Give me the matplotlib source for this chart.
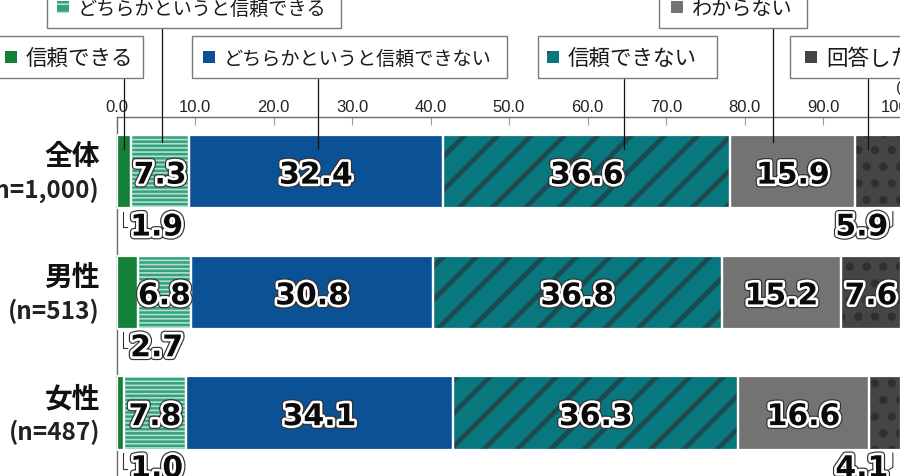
import matplotlib
matplotlib.use('Agg')
import matplotlib.pyplot as plt
from matplotlib import patheffects as pe
from matplotlib.patches import Rectangle
from matplotlib.lines import Line2D
import numpy as np

# ---------------- data ----------------
categories = ['全体', '男性', '女性']
sample_sizes = ['(n=1,000)', '(n=513)', '(n=487)']
series_names = ['信頼できる', 'どちらかというと信頼できる', 'どちらかというと信頼できない',
                '信頼できない', 'わからない', '回答したくない']
trust = [1.9, 2.7, 1.0]
somewhat_trust = [7.3, 6.8, 7.8]
somewhat_distrust = [32.4, 30.8, 34.1]
distrust = [36.6, 36.8, 36.3]
dont_know = [15.9, 15.2, 16.6]
no_answer = [5.9, 7.6, 4.1]
x_ticks = [0, 10, 20, 30, 40, 50, 60, 70, 80, 90, 100]
tick_labels = ['0.0', '10.0', '20.0', '30.0', '40.0', '50.0', '60.0', '70.0', '80.0', '90.0', '100.0']

series = [trust, somewhat_trust, somewhat_distrust, distrust, dont_know, no_answer]

# ---------------- styles ----------------
face = ['#128037', '#35A07C', '#0B5196', '#08777E', '#737373', '#454545']
hatch = [None, '----', None, '/', None, '.']
hatch_col = [None, '#B0E0CC', None, '#1C4A50', None, '#303030']
hatch_lw = [1.0, 1.2, 1.0, 3.4, 1.0, 3.6]

JP = ['Noto Sans CJK JP', 'DejaVu Sans']
W, H = 900, 477

fig = plt.figure(figsize=(W / 100, H / 100), dpi=100)
fig.patch.set_facecolor('white')

ax_top_px = 118
ax = fig.add_axes([116.5 / W, 0, 785 / W, 1 - ax_top_px / H])
ax.set_xlim(0, 100)
px_per_unit = 120.75
y_top = -(172.5 - ax_top_px) / px_per_unit
y_bot = y_top + (H - ax_top_px) / px_per_unit
ax.set_ylim(y_bot, y_top)


def py2d(py):
    return y_top + (py - ax_top_px) / px_per_unit


def fx(px):
    return px / W


def fy(py):
    return 1 - py / H


ypos = np.arange(len(categories))
bar_h = 0.605

lefts = np.zeros(len(categories))
for k, vals in enumerate(series):
    vals = np.array(vals)
    with plt.rc_context({'hatch.linewidth': hatch_lw[k]}):
        if hatch[k]:
            ax.barh(ypos, vals, left=lefts, height=bar_h, color=face[k],
                    hatch=hatch[k], edgecolor=hatch_col[k], linewidth=0, zorder=2)
        else:
            ax.barh(ypos, vals, left=lefts, height=bar_h, color=face[k],
                    linewidth=0, zorder=2)
    ax.barh(ypos, vals, left=lefts, height=bar_h, fill=False,
            edgecolor='white', linewidth=1.6, zorder=3)
    lefts = lefts + vals

# ---------------- axis styling ----------------
for s in ['right', 'bottom']:
    ax.spines[s].set_visible(False)
ax.spines['top'].set_color('#6a6a6a')
ax.spines['left'].set_color('#6a6a6a')
ax.spines['top'].set_linewidth(1.0)
ax.spines['left'].set_linewidth(1.0)
ax.xaxis.tick_top()
ax.set_xticks(x_ticks)
ax.set_xticklabels(tick_labels, fontfamily='Liberation Sans', fontsize=12, color='#222')
ax.tick_params(axis='x', direction='in', length=6, color='#9a9a9a', pad=2)
ax.set_yticks([])
ax.set_facecolor('none')

# category labels
for i, (c, n) in enumerate(zip(categories, sample_sizes)):
    ax.text(-2.1, i - 0.125, c, ha='right', va='center', fontsize=20,
            fontweight='bold', family=JP, color='#111', clip_on=False)
    ax.text(-2.1, i + 0.15, n, ha='right', va='center', fontsize=17.5,
            fontweight='bold', family=JP, color='#222', clip_on=False)

# ---------------- value labels ----------------
effects = [pe.Stroke(linewidth=5.5, foreground='#333333'),
           pe.Stroke(linewidth=3.8, foreground='white'), pe.Normal()]
val_font = dict(fontsize=21.5, fontweight='bold', family='DejaVu Sans', color='#0a0a0a',
                path_effects=effects, zorder=6)

left_leader_x = 0.85
right_leader_x = 98.9
out_dy = 0.46
starts = np.cumsum([[0, 0, 0]] + series[:-1], axis=0)
for i in range(len(categories)):
    for k, vals in enumerate(series):
        v = vals[i]
        st = starts[k][i]
        if v >= 6:
            ax.text(st + v / 2, i + 0.03, f'{v:.1f}', ha='center', va='center', **val_font)
        elif k == 0:
            yb = i + bar_h / 2
            ax.add_line(Line2D([left_leader_x, left_leader_x, left_leader_x + 0.5],
                               [yb + 0.03, i + out_dy, i + out_dy],
                               color='#333', lw=0.8, zorder=5, clip_on=False))
            ax.text(left_leader_x + 0.9, i + out_dy, f'{v:.1f}', ha='left',
                    va='center', **val_font)
        else:
            yb = i + bar_h / 2
            ax.add_line(Line2D([right_leader_x, right_leader_x, right_leader_x - 0.5],
                               [yb + 0.03, i + out_dy - 0.01, i + out_dy + 0.01],
                               color='#333', lw=0.8, zorder=5, clip_on=False))
            ax.text(right_leader_x - 0.6, i + out_dy, f'{v:.1f}', ha='right',
                    va='center', **val_font)

# ---------------- call-out legend boxes ----------------
# (box x0, box x1, row, marker x0, leader fraction of first-bar segment, font size)
row_y = {'A': (37, 79), 'B': (-13, 29)}
boxes = [
    (-2, 143, 'A', 5, 0.50, 15.5),
    (47, 341, 'B', 57, 0.53, 13.8),
    (192, 507, 'A', 203, 0.51, 13.8),
    (538, 717, 'A', 547, 0.63, 15.5),
    (659, 807, 'B', 671, 0.34, 14.5),
    (790, 980, 'A', 805, 0.27, 15.5),
]
msize = 12
for k, (x0, x1, row, mx, frac, fs) in enumerate(boxes):
    y0, y1 = row_y[row]
    fig.add_artist(Rectangle((fx(x0), fy(y1)), fx(x1) - fx(x0), fy(y0) - fy(y1),
                             transform=fig.transFigure, facecolor='white',
                             edgecolor='#7a7a7a', linewidth=1.0, zorder=1))
    yc = (y0 + y1) / 2
    with plt.rc_context({'hatch.linewidth': min(hatch_lw[k], 1.5)}):
        if hatch[k] and k != 5:
            m = Rectangle((fx(mx), fy(yc + msize / 2)), msize / W, msize / H,
                          transform=fig.transFigure, facecolor=face[k],
                          hatch=hatch[k].replace('----', '--'), edgecolor=hatch_col[k],
                          linewidth=0, zorder=2)
        else:
            m = Rectangle((fx(mx), fy(yc + msize / 2)), msize / W, msize / H,
                          transform=fig.transFigure, facecolor=face[k],
                          linewidth=0, zorder=2)
    fig.add_artist(m)
    fig.text(fx(mx + msize + 9), fy(yc + 1), series_names[k], ha='left', va='center',
             fontsize=fs, family=JP, color='#1a1a1a', zorder=3)
    # leader line from the box to the first bar's segment
    lx = starts[k][0] + series[k][0] * frac
    y_end = py2d(150) if row == 'A' else py2d(143)
    ax.add_line(Line2D([lx, lx], [py2d(y1), y_end], color='#111', lw=0.9,
                       zorder=5, clip_on=False))

fig.text(fx(896), fy(88), '(%)', ha='left', va='center', fontsize=11,
         family='Liberation Sans', color='#222')

fig.savefig('out.png', dpi=100, facecolor='white')
